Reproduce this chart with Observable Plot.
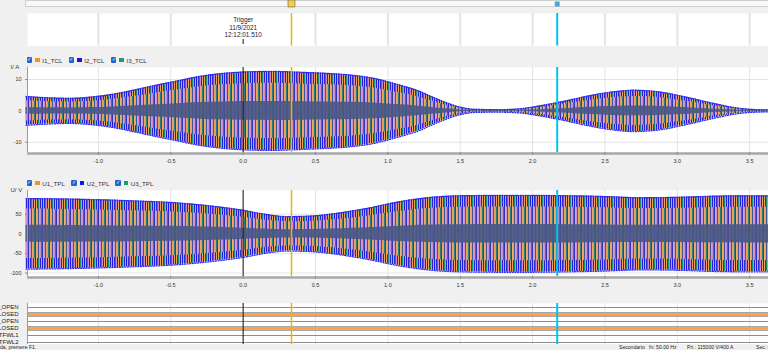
<!DOCTYPE html>
<html><head><meta charset="utf-8">
<script src="https://cdn.jsdelivr.net/npm/d3@7"></script>
<script src="https://cdn.jsdelivr.net/npm/@observablehq/plot@0.6"></script>
<style>
html,body{margin:0;padding:0;background:#f0f0f0;}
#wrap{position:relative;width:768px;height:350px;overflow:hidden;background:#f0f0f0;font-family:"Liberation Sans",Arial,sans-serif;color:#222;}
#wrap svg{position:absolute;left:0;}
.legend{position:absolute;left:0;width:768px;height:7px;font-size:6.2px;}
.item{position:absolute;top:0;height:6px;display:flex;align-items:center;white-space:nowrap;}
.cb{width:5.5px;height:5.5px;background:#1f66cc;border-radius:1px;color:#fff;font-size:5px;line-height:5.5px;text-align:center;}
.sw{width:4.8px;height:4.8px;margin-left:3.2px;}
.lt{margin-left:2.2px;color:#333;}
#scroll{position:absolute;left:25px;top:0;width:742px;height:5px;background:#f8f8f8;border:1px solid #cfcfcf;}
#status{position:absolute;left:0;top:344px;width:768px;height:6px;background:#f0f0f0;font-size:5.1px;line-height:6px;color:#222;}
#status span{position:absolute;top:0;white-space:nowrap;}
</style></head><body>
<div id="wrap">
<svg width="0" height="0" style="position:absolute"><defs>
<pattern id="waveOuter" patternUnits="userSpaceOnUse" width="7" height="4">
<rect x="0" y="0" width="1" height="4" fill="#1c1ce6"/>
<rect x="1" y="0" width="1" height="4" fill="#ee9f50"/>
<rect x="2" y="0" width="1" height="4" fill="#2f2fc8"/>
<rect x="3" y="0" width="1" height="4" fill="#1f8f74"/>
<rect x="4" y="0" width="1" height="4" fill="#c58ad0"/>
<rect x="5" y="0" width="1" height="4" fill="#2222d8"/>
<rect x="6" y="0" width="1" height="4" fill="#e9a560"/>
</pattern>
<pattern id="waveMid" patternUnits="userSpaceOnUse" width="7" height="4">
<rect x="0" y="0" width="1" height="4" fill="#2e3ab4"/>
<rect x="1" y="0" width="1" height="4" fill="#f0ac62"/>
<rect x="2" y="0" width="1" height="4" fill="#cf95d5"/>
<rect x="3" y="0" width="1" height="4" fill="#46558f"/>
<rect x="4" y="0" width="1" height="4" fill="#eaa65c"/>
<rect x="5" y="0" width="1" height="4" fill="#c892d2"/>
<rect x="6" y="0" width="1" height="4" fill="#2f7f84"/>
</pattern>
</defs></svg>
<div id="scroll"></div>
</div>
<script>
// ---------- data ----------
const xTicks = [-1.0, -0.5, 0.0, 0.5, 1.0, 1.5, 2.0, 2.5, 3.0, 3.5];
const triggerLines = ["Trigger", "11/9/2021", "12:12:01.510"];
const triggerT = 0;
const cursorYellowT = 0.334;
const cursorCyanT = 2.17;

const currentNames = ["I1_TCL", "I2_TCL", "I3_TCL"];
const voltageNames = ["U1_TPL", "U2_TPL", "U3_TPL"];
const phaseColors = ["#f7931e", "#1414f0", "#16a06e"];
const currentUnit = "I/ A";
const voltageUnit = "U/ V";
const currentTicks = [-10, 0, 10];
const voltageTicks = [-100, -50, 0, 50];

// envelope (peak amplitude)
const currentT =   [-1.5, -1.35, -1.2, -1.05, -0.9, -0.75, -0.6, -0.45, -0.3, -0.15, 0.0, 0.2, 0.4, 0.6, 0.75, 0.9, 1.0, 1.1, 1.2, 1.3, 1.4, 1.5, 1.6, 1.75, 1.9, 2.0, 2.1, 2.2, 2.3, 2.4, 2.5, 2.6, 2.7, 2.8, 2.9, 3.0, 3.1, 3.2, 3.3, 3.4, 3.5, 3.65];
const currentAmp = [4.6, 4.2, 4.0, 4.4, 5.3, 6.7, 8.2, 9.6, 11.0, 11.9, 12.4, 12.6, 12.3, 11.9, 11.4, 10.4, 9.3, 8.0, 6.6, 4.6, 2.7, 1.2, 0.5, 0.4, 0.6, 1.2, 2.0, 2.9, 3.9, 4.9, 5.7, 6.3, 6.6, 6.4, 5.9, 5.0, 4.0, 2.9, 1.9, 1.0, 0.5, 0.3];
const voltageT =   [-1.5, -1.25, -1.0, -0.75, -0.5, -0.25, 0.0, 0.15, 0.3, 0.45, 0.6, 0.75, 0.9, 1.0, 1.15, 1.3, 1.5, 1.75, 2.0, 2.25, 2.5, 2.75, 3.0, 3.25, 3.5, 3.65];
const voltageAmp = [90, 89, 87, 84, 80, 72, 60, 50, 44, 45, 50, 58, 68, 76, 86, 93, 97, 98, 98, 97, 95, 92, 93, 96, 97, 97];

const digitalNames = ["_OPEN", "CLOSED", "_OPEN", "CLOSED", "TFWL1", "TFWL2"];
const digitalStates = [0, 1, 0, 1, 0, 0];

const statusLeft = "da, premere F1.";
const statusItems = ["Secondario", "fn: 50.00 Hz", "Pri.: 115000 V/400 A", "Sec.: 1"];

// ---------- layout / style ----------
const X_DOMAIN = [-1.49, 3.63];
const FONT = "'Liberation Sans', Arial, sans-serif";
const GRID = "#e4e4e4";
const wrap = document.getElementById("wrap");
const baseStyle = {background: "transparent", fontFamily: FONT, fontSize: "6px", overflow: "visible"};
function place(svg, top) { svg.style.position = "absolute"; svg.style.top = top + "px"; svg.style.left = "0px"; wrap.appendChild(svg); }
const cursorMarks = () => [
  Plot.ruleX([triggerT], {stroke: "#1a1a1a", strokeWidth: 1}),
  Plot.ruleX([cursorYellowT], {stroke: "#f2b300", strokeWidth: 1.5}),
  Plot.ruleX([cursorCyanT], {stroke: "#00c3f2", strokeWidth: 2})
];

// header (scroll markers + trigger label)
place(Plot.plot({
  width: 768, height: 46, marginLeft: 27, marginRight: 0, marginTop: 13, marginBottom: 0.5,
  style: baseStyle,
  x: {domain: X_DOMAIN, axis: null},
  marks: [
    Plot.frame({fill: "white", stroke: null}),
    Plot.gridX(xTicks.filter(v => v !== 0), {stroke: GRID, strokeOpacity: 1, strokeWidth: 2}),
    Plot.ruleX([cursorYellowT], {stroke: "#f2b300", strokeWidth: 1.5}),
    Plot.ruleX([cursorCyanT], {stroke: "#00c3f2", strokeWidth: 2}),
    Plot.ruleX([triggerT], {stroke: "#1a1a1a", insetTop: 26, insetBottom: 1.5}),
    Plot.text([triggerT], {x: d => d, text: () => triggerLines.join("\n"), frameAnchor: "top", lineAnchor: "top", dy: 3.5, fontSize: 6.4, lineHeight: 1.17, fill: "#222"}),
    Plot.dot([cursorYellowT], {x: d => d, frameAnchor: "top", dy: -10, symbol: "square", r: 3.9, fill: "#f6cf48", stroke: "#8d7d48", strokeWidth: 0.8}),
    Plot.dot([cursorCyanT], {x: d => d, frameAnchor: "top", dy: -9.5, symbol: "square", r: 2.4, fill: "#2fb2e6", stroke: "#5a8fb0", strokeWidth: 0.5})
  ]
}), 0);

function legend(names, top, lefts) {
  const div = document.createElement("div");
  div.className = "legend"; div.style.top = top + "px";
  names.forEach((n, i) => {
    const it = document.createElement("div");
    it.className = "item"; it.style.left = lefts[i] + "px";
    it.innerHTML = `<div class="cb">✓</div><div class="sw" style="background:${phaseColors[i]}"></div><div class="lt">${n}</div>`;
    div.appendChild(it);
  });
  wrap.appendChild(div);
}

function wavePanel({top, height, mt, mb, domain, ticks, T, A, unit}) {
  const data = T.map((t, i) => ({t, a: A[i]}));
  const svg = Plot.plot({
    width: 768, height, marginLeft: 27, marginRight: 0, marginTop: mt, marginBottom: mb,
    style: baseStyle,
    x: {domain: X_DOMAIN},
    y: {domain},
    marks: [
      Plot.frame({fill: "white", stroke: null}),
      Plot.gridX(xTicks, {stroke: GRID, strokeOpacity: 1}),
      Plot.gridY(ticks, {stroke: GRID, strokeOpacity: 1}),
      Plot.areaY(data, {x: "t", y1: d => -d.a, y2: d => d.a, fill: "url(#waveOuter)", curve: "monotone-x"}),
      Plot.areaY(data, {x: "t", y1: d => -0.7 * d.a, y2: d => 0.7 * d.a, fill: "url(#waveMid)", curve: "monotone-x"}),
      Plot.areaY(data, {x: "t", y1: d => -0.24 * d.a, y2: d => 0.24 * d.a, fill: "#4a5888", fillOpacity: 0.92, curve: "monotone-x"}),
      Plot.lineY(data, {x: "t", y: "a", stroke: "#2c2cf5", strokeWidth: 1.3, strokeDasharray: "1 1.6", curve: "monotone-x"}),
      Plot.lineY(data, {x: "t", y: d => -d.a, stroke: "#2c2cf5", strokeWidth: 1.3, strokeDasharray: "1 1.6", curve: "monotone-x"}),
      ...cursorMarks(),
      Plot.ruleY([domain[0]], {stroke: "#a8a8a8", strokeWidth: 2.5, dy: 1}),
      Plot.ruleX([X_DOMAIN[0]], {stroke: "#9a9a9a"}),
      Plot.axisX(xTicks, {tickSize: 3, tickPadding: 4, tickFormat: d => d.toFixed(1), stroke: "#8a8a8a", fill: "#333", fontSize: 5.5, label: null}),
      Plot.axisY(ticks, {tickSize: 2, tickPadding: 4, tickFormat: d => String(d), stroke: "#8a8a8a", fill: "#333", fontSize: 5.5, label: null}),
      Plot.text([unit], {text: d => d, frameAnchor: "top-left", dx: -17, dy: 0, textAnchor: "start", lineAnchor: "middle", fontSize: 6, fill: "#333"})
    ]
  });
  place(svg, top);
}

legend(currentNames, 57, [26.5, 68.5, 110.8]);
wavePanel({top: 64, height: 104, mt: 3, mb: 16, domain: [-13.27, 13.84], ticks: currentTicks, T: currentT, A: currentAmp, unit: currentUnit});
legend(voltageNames, 180, [26.5, 71, 115]);
wavePanel({top: 187, height: 104, mt: 3, mb: 15, domain: [-108.9, 110.5], ticks: voltageTicks, T: voltageT, A: voltageAmp, unit: voltageUnit});

// digital channels
const digital = digitalNames.map((name, i) => ({i, name, s: digitalStates[i]}));
place(Plot.plot({
  width: 768, height: 44, marginLeft: 27, marginRight: 0, marginTop: 3, marginBottom: 0,
  style: baseStyle,
  x: {domain: X_DOMAIN, axis: null},
  y: {type: "point", domain: d3.range(digitalNames.length), range: [7, 42], padding: 0, axis: null},
  marks: [
    Plot.frame({fill: "white", stroke: null}),
    Plot.gridX(xTicks, {stroke: GRID, strokeOpacity: 1}),
    Plot.ruleY(digital.filter(d => d.s === 0), {y: "i", stroke: "#8e8e8e", strokeWidth: 1}),
    Plot.ruleY(digital.filter(d => d.s === 1), {y: "i", stroke: "#8a8a8a", strokeWidth: 4.6}),
    Plot.ruleY(digital.filter(d => d.s === 1), {y: "i", stroke: "#f8a451", strokeWidth: 3}),
    ...cursorMarks(),
    Plot.ruleX([X_DOMAIN[0]], {stroke: "#9a9a9a"}),
    Plot.text(digital, {y: "i", text: "name", frameAnchor: "left", dx: -9, textAnchor: "end", fontSize: 6, fill: "#222"})
  ]
}), 300);

// status bar
const st = document.createElement("div");
st.id = "status";
const statusLefts = [619, 649, 687, 756];
st.innerHTML = `<span style="left:0px">${statusLeft}</span>` + statusItems.map((s, i) => `<span style="left:${statusLefts[i]}px">${s}</span>`).join("");
wrap.appendChild(st);
</script>
</body></html>
